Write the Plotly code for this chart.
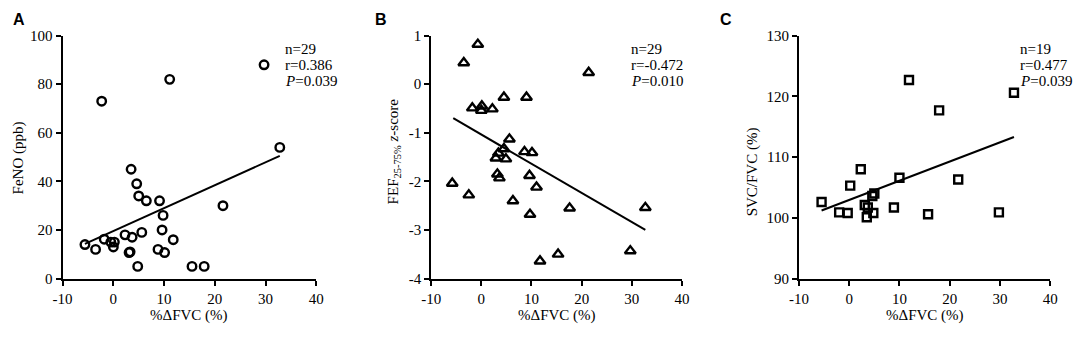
import plotly.graph_objects as go

# ---------------- data ----------------
# Panel A: FeNO vs %ΔFVC
a_x = [-5.6, -3.5, -2.3, -1.8, -0.5, 0.2, 0.0, 2.3, 3.1, 3.3, 3.5, 3.7, 4.6, 4.8, 5.0,
       5.6, 6.5, 8.8, 9.1, 9.8, 9.6, 10.1, 11.1, 11.8, 15.5, 17.9, 21.6, 29.7, 32.8]
a_y = [14, 12, 73, 16.2, 15, 15, 13, 18, 10.7, 11, 45, 17, 39, 5, 34,
       19, 32, 12, 32, 26, 20, 10.7, 82, 16, 5, 5, 30, 88, 54]
a_fit_x = [-5.6, 32.8]
a_fit_y = [14.3, 50.5]
a_stats = ["n=29", "r=0.386", "<i>P</i>=0.039"]

# Panel B: FEF25-75% z-score vs %ΔFVC
b_x = [-5.8, -3.5, -2.5, -1.8, -0.7, 0.1, 0.0, 2.2, 2.9, 3.2, 3.4, 3.6, 4.5, 4.5, 4.9,
       5.6, 6.3, 8.6, 9.0, 9.6, 10.1, 9.7, 11.0, 11.7, 15.3, 17.6, 21.4, 29.7, 32.7]
b_y = [-2.04, 0.44, -2.28, -0.49, 0.82, -0.45, -0.54, -0.51, -1.52, -1.85, -1.42, -1.93,
       -0.27, -1.33, -1.54, -1.13, -2.40, -1.39, -0.27, -1.88, -1.41, -2.68, -2.12,
       -3.64, -3.50, -2.55, 0.24, -3.43, -2.54]
b_fit_x = [-5.6, 32.7]
b_fit_y = [-0.70, -3.00]
b_stats = ["n=29", "r=-0.472", "<i>P</i>=0.010"]

# Panel C: SVC/FVC vs %ΔFVC
c_x = [-5.5, -2.0, -0.3, 0.2, 2.3, 3.1, 3.5, 3.7, 4.8, 4.6, 5.0, 8.9, 10.0, 11.9,
       15.7, 17.9, 21.7, 29.8, 32.8]
c_y = [102.6, 100.9, 100.8, 105.3, 108.0, 102.1, 100.1, 101.7, 100.8, 103.6, 104.0,
       101.7, 106.6, 122.7, 100.6, 117.7, 106.3, 100.9, 120.6]
c_fit_x = [-5.5, 32.8]
c_fit_y = [101.2, 113.3]
c_stats = ["n=19", "r=0.477", "<i>P</i>=0.039"]

x_ticks = [-10, 0, 10, 20, 30, 40]
x_ticktext = ["-10", "0", "10", "20", "30", "40"]
a_ticks = [0, 20, 40, 60, 80, 100]
a_ticktext = ["0", "20", "40", "60", "80", "100"]
b_ticks = [-4, -3, -2, -1, 0, 1]
b_ticktext = ["-4", "-3", "-2", "-1", "0", "1"]
c_ticks = [90, 100, 110, 120, 130]
c_ticktext = ["90", "100", "110", "120", "130"]

x_title = "%ΔFVC (%)"
y_titles = ["FeNO (ppb)", "FEF<sub>25-75%</sub> <i>z</i>-score", "SVC/FVC (%)"]
letters = ["A", "B", "C"]

# ---------------- figure ----------------
W, H = 1084, 338
FONT = "Liberation Serif"
FS = 15
fig = go.Figure()

panels = [
    dict(x=a_x, y=a_y, fx=a_fit_x, fy=a_fit_y, sym="circle-open", size=8.5,
         yt=a_ticks, ytt=a_ticktext, yr=[0, 100], dom=[53.5, 311.5], stats=a_stats,
         sx=278, ytx=9, yty=157, lx=9),
    dict(x=b_x, y=b_y, fx=b_fit_x, fy=b_fit_y, sym="triangle-up-open", size=9.5,
         yt=b_ticks, ytt=b_ticktext, yr=[-4, 1], dom=[428.3, 683.3], stats=b_stats,
         sx=629, ytx=390, yty=151, lx=377),
    dict(x=c_x, y=c_y, fx=c_fit_x, fy=c_fit_y, sym="square-open", size=8,
         yt=c_ticks, ytt=c_ticktext, yr=[90, 130], dom=[802.3, 1057.7], stats=c_stats,
         sx=1025, ytx=755, yty=172, lx=728),
]

y_top, y_bot = 29, 284
ydom = [(H - y_bot) / H, (H - y_top) / H]

for i, p in enumerate(panels):
    n = "" if i == 0 else str(i + 1)
    xa, ya = "x" + n, "y" + n
    fig.add_trace(go.Scatter(x=p["x"], y=p["y"], mode="markers", xaxis=xa, yaxis=ya,
                             marker=dict(symbol=p["sym"], size=p["size"], color="black",
                                         line=dict(width=2.4, color="black")),
                             cliponaxis=False, showlegend=False))
    fig.add_trace(go.Scatter(x=p["fx"], y=p["fy"], mode="lines", xaxis=xa, yaxis=ya,
                             line=dict(color="black", width=2), showlegend=False))
    axcommon = dict(showline=True, linecolor="black", linewidth=2, ticks="outside",
                    ticklen=5, tickwidth=2, tickcolor="black", showgrid=False,
                    zeroline=False, tickfont=dict(family=FONT, size=FS, color="black"),
                    fixedrange=True)
    fig.layout["xaxis" + n] = dict(axcommon, domain=[p["dom"][0] / W, p["dom"][1] / W],
                                   range=[-10, 40], tickvals=x_ticks, ticktext=x_ticktext,
                                   anchor=ya)
    fig.layout["yaxis" + n] = dict(axcommon, domain=ydom, range=p["yr"],
                                   tickvals=p["yt"], ticktext=p["ytt"], anchor=xa)
    # stats text
    for k, s in enumerate(p["stats"]):
        fig.add_annotation(text=s, xref="paper", yref="paper", x=p["sx"] / W,
                           y=(H - (43 + 17 * k)) / H, xanchor="left", yanchor="middle",
                           showarrow=False, font=dict(family=FONT, size=FS, color="black"))
    # x title
    fig.add_annotation(text=x_title, xref="paper", yref="paper",
                       x=(p["dom"][0] + p["dom"][1]) / 2 / W, y=(H - 323) / H,
                       xanchor="center", yanchor="middle", showarrow=False,
                       font=dict(family=FONT, size=FS, color="black"))
    # y title
    fig.add_annotation(text=y_titles[i], xref="paper", yref="paper",
                       x=p["ytx"] / W, y=(H - p["yty"]) / H, textangle=-90,
                       xanchor="center", yanchor="middle", showarrow=False,
                       font=dict(family=FONT, size=FS, color="black"))
    # panel letter
    fig.add_annotation(text="<b>" + letters[i] + "</b>", xref="paper", yref="paper",
                       x=p["lx"] / W, y=(H - 12) / H, xanchor="center", yanchor="middle",
                       showarrow=False,
                       font=dict(family="Liberation Sans", size=16, color="black"))

fig.update_layout(width=W, height=H, margin=dict(l=0, r=0, t=0, b=0),
                  paper_bgcolor="white", plot_bgcolor="white")

fig.write_html(
    "out.html",
    config={"displayModeBar": False},
    post_script="document.body.style.margin='0';"
                "document.documentElement.style.overflow='hidden';",
)
